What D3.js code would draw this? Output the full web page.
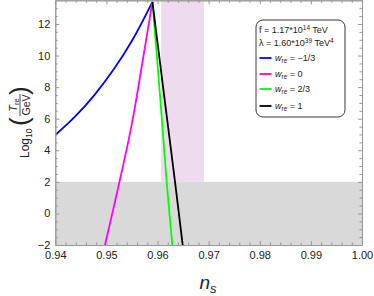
<!DOCTYPE html>
<html>
<head>
<meta charset="utf-8">
<script src="https://cdn.jsdelivr.net/npm/d3@7"></script>
<style>
  body { margin: 0; background: #fff; }
  svg { font-family: "Liberation Sans", Arial, sans-serif; }
</style>
</head>
<body>
<svg id="chart" width="374" height="296"></svg>
<script>
// curves: [n_s, log10(T_re/GeV)]
const blueCurve = [[0.94, 4.97], [0.9438, 6.11], [0.9476, 7.48], [0.9514, 9.11], [0.9552, 11.05], [0.959, 13.4]];
const magentaCurve = [[0.94972, -2], [0.95475, 5.29], [0.9569, 9.29], [0.959, 13.4]];
const greenCurve = [[0.959, 13.4], [0.96055, 7.2], [0.96179, 2], [0.96289, -2]];
const blackCurve = [[0.959, 13.4], [0.9612, 7.7], [0.96342, 2], [0.96492, -2]];

const seriesLabels = ["\u22121/3", "0", "2/3", "1"];
const seriesColors = ["#0000ff", "#ff00ff", "#00ff00", "#000000"];
const seriesData = [blueCurve, magentaCurve, greenCurve, blackCurve];

const grayBand = [-2, 2];          // y range
const pinkBand = [0.9607, 0.9691]; // x range

const xTicks = [0.94, 0.95, 0.96, 0.97, 0.98, 0.99, 1.00];
const xTickLabels = ["0.94", "0.95", "0.96", "0.97", "0.98", "0.99", "1.00"];
const yTicks = [-2, 0, 2, 4, 6, 8, 10, 12];
const yTickLabels = ["\u22122", "0", "2", "4", "6", "8", "10", "12"];

const x = d3.scaleLinear().domain([0.94, 1.00]).range([55.3, 362]);
const y = d3.scaleLinear().domain([-2, 13.5]).range([245, 0.3]);

const svg = d3.select("#chart");

svg.append("defs").append("clipPath").attr("id", "plotclip")
  .append("rect")
  .attr("x", x(0.94)).attr("y", y(13.5))
  .attr("width", x(1.0) - x(0.94)).attr("height", y(-2) - y(13.5));

const plot = svg.append("g").attr("clip-path", "url(#plotclip)");

// pink band (ends at the gray band)
plot.append("rect")
  .attr("x", x(pinkBand[0])).attr("width", x(pinkBand[1]) - x(pinkBand[0]))
  .attr("y", y(13.5)).attr("height", y(2) - y(13.5))
  .attr("fill", "#eedcee");

// gray band
plot.append("rect")
  .attr("x", x(0.94)).attr("width", x(1.0) - x(0.94))
  .attr("y", y(grayBand[1])).attr("height", y(grayBand[0]) - y(grayBand[1]))
  .attr("fill", "#d9d9d9");

const line = d3.line()
  .x(d => x(d[0]))
  .y(d => y(d[1]))
  .curve(d3.curveCatmullRom.alpha(0.5));

seriesData.forEach((d, i) => {
  plot.append("path")
    .datum(d)
    .attr("fill", "none")
    .attr("stroke", seriesColors[i])
    .attr("stroke-width", 1.8)
    .attr("d", line);
});

// frame with inward ticks on all sides
const tickColor = "#999";
const xMinor = d3.range(0.94, 1.0001, 0.002).filter(v => Math.abs(v * 100 - Math.round(v * 100)) > 1e-6);
const yMinor = d3.range(-2, 13.5, 0.5).filter(v => v % 2 !== 0);

function styleAxis(g) {
  g.select(".domain").attr("stroke", tickColor);
  g.selectAll(".tick line").attr("stroke", tickColor);
  g.selectAll(".tick text").attr("fill", "#222").attr("font-size", 11);
}

svg.append("g").attr("transform", `translate(0,${y(-2)})`)
  .call(d3.axisBottom(x).tickValues(xTicks).tickFormat((d, i) => xTickLabels[i]).tickSizeInner(-4).tickSizeOuter(0).tickPadding(6))
  .call(styleAxis);
svg.append("g").attr("transform", `translate(0,${y(-2)})`)
  .call(d3.axisBottom(x).tickValues(xMinor).tickFormat("").tickSizeInner(-2.5).tickSizeOuter(0))
  .call(styleAxis);
svg.append("g").attr("transform", `translate(0,${y(13.5)})`)
  .call(d3.axisTop(x).tickValues(xTicks).tickFormat("").tickSizeInner(-4).tickSizeOuter(0))
  .call(styleAxis);
svg.append("g").attr("transform", `translate(0,${y(13.5)})`)
  .call(d3.axisTop(x).tickValues(xMinor).tickFormat("").tickSizeInner(-2.5).tickSizeOuter(0))
  .call(styleAxis);

svg.append("g").attr("transform", `translate(${x(0.94)},0)`)
  .call(d3.axisLeft(y).tickValues(yTicks).tickFormat((d, i) => yTickLabels[i]).tickSizeInner(-4).tickSizeOuter(0).tickPadding(5))
  .call(styleAxis);
svg.append("g").attr("transform", `translate(${x(0.94)},0)`)
  .call(d3.axisLeft(y).tickValues(yMinor).tickFormat("").tickSizeInner(-2.5).tickSizeOuter(0))
  .call(styleAxis);
svg.append("g").attr("transform", `translate(${x(1.0)},0)`)
  .call(d3.axisRight(y).tickValues(yTicks).tickFormat("").tickSizeInner(-4).tickSizeOuter(0))
  .call(styleAxis);
svg.append("g").attr("transform", `translate(${x(1.0)},0)`)
  .call(d3.axisRight(y).tickValues(yMinor).tickFormat("").tickSizeInner(-2.5).tickSizeOuter(0))
  .call(styleAxis);

// x axis title
svg.append("text")
  .attr("x", 208).attr("y", 289)
  .attr("text-anchor", "middle")
  .attr("font-size", 19)
  .attr("font-style", "italic")
  .attr("fill", "#222")
  .html('n<tspan font-size="13" dy="4">s</tspan>');

// y axis title: Log10(T_re / GeV)
const yl = svg.append("g").attr("transform", "translate(0,122) rotate(-90)").attr("fill", "#222");
yl.append("text").attr("x", -36).attr("y", 29).attr("font-size", 12)
  .html('Log<tspan font-size="8.5" dy="3">10</tspan>');
yl.append("text").attr("x", -4).attr("y", 28).attr("font-size", 26)
  .attr("font-weight", 200).text("(");
yl.append("text").attr("x", 17).attr("y", 17).attr("font-size", 11).attr("text-anchor", "middle")
  .attr("font-style", "italic")
  .html('T<tspan font-size="7.5" dy="2" font-style="normal">re</tspan>');
yl.append("line").attr("x1", 6).attr("x2", 28).attr("y1", 20).attr("y2", 20)
  .attr("stroke", "#222").attr("stroke-width", 0.8);
yl.append("text").attr("x", 17).attr("y", 29.5).attr("font-size", 10.5).attr("text-anchor", "middle").text("GeV");
yl.append("text").attr("x", 27).attr("y", 28).attr("font-size", 26).attr("font-weight", 200).text(")");

// legend
const lg = svg.append("g").attr("fill", "#222").attr("font-size", 9);
lg.append("rect")
  .attr("x", 256).attr("y", 20).attr("width", 89).attr("height", 97)
  .attr("rx", 7).attr("fill", "#fff").attr("stroke", "#222").attr("stroke-width", 0.9);
lg.append("text").attr("x", 259).attr("y", 33)
  .html('f = 1.17*10<tspan font-size="6.5" dy="-3.5">14</tspan><tspan dy="3.5"> TeV</tspan>');
lg.append("text").attr("x", 259).attr("y", 46)
  .html('\u03bb = 1.60*10<tspan font-size="6.5" dy="-3.5">39</tspan><tspan dy="3.5"> TeV</tspan><tspan font-size="6.5" dy="-3.5">4</tspan>');
const legendY = [58, 74, 89, 106];
seriesLabels.forEach((lab, i) => {
  lg.append("line")
    .attr("x1", 259.5).attr("x2", 271.5).attr("y1", legendY[i]).attr("y2", legendY[i])
    .attr("stroke", seriesColors[i]).attr("stroke-width", 1.8);
  lg.append("text").attr("x", 275).attr("y", legendY[i] + 3.2)
    .html('<tspan font-style="italic">w</tspan><tspan font-size="6.5" dy="2">re</tspan><tspan dy="-2"> = ' + lab + '</tspan>');
});
</script>
</body>
</html>
